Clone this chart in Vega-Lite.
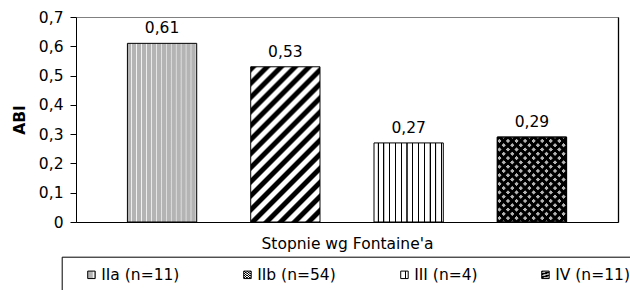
{
  "$schema": "https://vega.github.io/schema/vega-lite/v6.json",
  "width": 542,
  "height": 205,
  "autosize": {"type": "none"},
  "padding": {"left": 76, "top": 17, "right": 12, "bottom": 68},
  "background": "white",
  "config": {
    "locale": {"number": {"decimal": ",", "thousands": " ", "grouping": [3], "currency": ["", ""]}},
    "view": {"stroke": "#808080", "strokeWidth": 1},
    "axis": {"labelFont": "DejaVu Sans", "titleFont": "DejaVu Sans", "labelColor": "black", "titleColor": "black", "domainColor": "black", "tickColor": "black", "grid": false},
    "text": {"font": "DejaVu Sans"}
  },
  "data": {"values": [
    {"grade": "IIa (n=11)", "abi": 0.61},
    {"grade": "IIb (n=54)", "abi": 0.53},
    {"grade": "III (n=4)", "abi": 0.27},
    {"grade": "IV (n=11)", "abi": 0.29}
  ]},
  "encoding": {
    "x": {"field": "grade", "type": "nominal", "sort": null,
      "scale": {"paddingInner": 0.438, "paddingOuter": 0.417},
      "axis": {"labels": false, "ticks": false, "domainColor": "black", "title": "Stopnie wg Fontaine'a", "titleFontSize": 15.5, "titleFontWeight": "normal", "titlePadding": 14}},
    "y": {"field": "abi", "type": "quantitative", "scale": {"domain": [0, 0.7], "nice": false}}
  },
  "resolve": {"axis": {"y": "independent"}},
  "layer": [
    {
      "mark": {"type": "bar", "stroke": "black", "strokeWidth": 1},
      "encoding": {
        "y": {"field": "abi", "type": "quantitative", "scale": {"domain": [0, 0.7], "nice": false},
          "axis": {"orient": "left", "values": [0, 0.1, 0.2, 0.3, 0.4, 0.5, 0.6, 0.7], "format": ".1~f", "labelFontSize": 15.5, "tickSize": 6, "labelPadding": 7, "title": "ABI", "titleFontSize": 15.5, "titleFontWeight": "bold", "titlePadding": 11}},
        "fill": {"field": "grade", "type": "nominal", "sort": null,
          "scale": {
            "domain": ["IIa (n=11)", "IIb (n=54)", "III (n=4)", "IV (n=11)"],
            "range": [
              {"expr": "{gradient:'linear',x1:0,y1:0,x2:1,y2:0,stops:[{offset:0,color:'#b4b4b4'},{offset:0.05,color:'#b4b4b4'},{offset:0.06,color:'#f4f4f4'},{offset:0.0714,color:'#b4b4b4'},{offset:0.1214,color:'#b4b4b4'},{offset:0.1314,color:'#f4f4f4'},{offset:0.1429,color:'#b4b4b4'},{offset:0.1929,color:'#b4b4b4'},{offset:0.2029,color:'#f4f4f4'},{offset:0.2143,color:'#b4b4b4'},{offset:0.2643,color:'#b4b4b4'},{offset:0.2743,color:'#f4f4f4'},{offset:0.2857,color:'#b4b4b4'},{offset:0.3357,color:'#b4b4b4'},{offset:0.3457,color:'#f4f4f4'},{offset:0.3571,color:'#b4b4b4'},{offset:0.4071,color:'#b4b4b4'},{offset:0.4171,color:'#f4f4f4'},{offset:0.4286,color:'#b4b4b4'},{offset:0.4786,color:'#b4b4b4'},{offset:0.4886,color:'#f4f4f4'},{offset:0.5,color:'#b4b4b4'},{offset:0.55,color:'#b4b4b4'},{offset:0.56,color:'#f4f4f4'},{offset:0.5714,color:'#b4b4b4'},{offset:0.6214,color:'#b4b4b4'},{offset:0.6314,color:'#f4f4f4'},{offset:0.6429,color:'#b4b4b4'},{offset:0.6929,color:'#b4b4b4'},{offset:0.7029,color:'#f4f4f4'},{offset:0.7143,color:'#b4b4b4'},{offset:0.7643,color:'#b4b4b4'},{offset:0.7743,color:'#f4f4f4'},{offset:0.7857,color:'#b4b4b4'},{offset:0.8357,color:'#b4b4b4'},{offset:0.8457,color:'#f4f4f4'},{offset:0.8571,color:'#b4b4b4'},{offset:0.9071,color:'#b4b4b4'},{offset:0.9171,color:'#f4f4f4'},{offset:0.9286,color:'#b4b4b4'},{offset:0.9786,color:'#b4b4b4'},{offset:0.9886,color:'#f4f4f4'},{offset:1,color:'#b4b4b4'}]}"},
              {"expr": "{gradient:'linear',x1:0,y1:0,x2:0.541,y2:1.207,stops:[{offset:0,color:'#000'},{offset:0.0219,color:'#000'},{offset:0.0313,color:'#fff'},{offset:0.0531,color:'#fff'},{offset:0.0625,color:'#000'},{offset:0.0844,color:'#000'},{offset:0.0938,color:'#fff'},{offset:0.1156,color:'#fff'},{offset:0.125,color:'#000'},{offset:0.1469,color:'#000'},{offset:0.1563,color:'#fff'},{offset:0.1781,color:'#fff'},{offset:0.1875,color:'#000'},{offset:0.2094,color:'#000'},{offset:0.2188,color:'#fff'},{offset:0.2406,color:'#fff'},{offset:0.25,color:'#000'},{offset:0.2719,color:'#000'},{offset:0.2813,color:'#fff'},{offset:0.3031,color:'#fff'},{offset:0.3125,color:'#000'},{offset:0.3344,color:'#000'},{offset:0.3438,color:'#fff'},{offset:0.3656,color:'#fff'},{offset:0.375,color:'#000'},{offset:0.3969,color:'#000'},{offset:0.4063,color:'#fff'},{offset:0.4281,color:'#fff'},{offset:0.4375,color:'#000'},{offset:0.4594,color:'#000'},{offset:0.4688,color:'#fff'},{offset:0.4906,color:'#fff'},{offset:0.5,color:'#000'},{offset:0.5219,color:'#000'},{offset:0.5313,color:'#fff'},{offset:0.5531,color:'#fff'},{offset:0.5625,color:'#000'},{offset:0.5844,color:'#000'},{offset:0.5938,color:'#fff'},{offset:0.6156,color:'#fff'},{offset:0.625,color:'#000'},{offset:0.6469,color:'#000'},{offset:0.6563,color:'#fff'},{offset:0.6781,color:'#fff'},{offset:0.6875,color:'#000'},{offset:0.7094,color:'#000'},{offset:0.7188,color:'#fff'},{offset:0.7406,color:'#fff'},{offset:0.75,color:'#000'},{offset:0.7719,color:'#000'},{offset:0.7813,color:'#fff'},{offset:0.8031,color:'#fff'},{offset:0.8125,color:'#000'},{offset:0.8344,color:'#000'},{offset:0.8438,color:'#fff'},{offset:0.8656,color:'#fff'},{offset:0.875,color:'#000'},{offset:0.8969,color:'#000'},{offset:0.9063,color:'#fff'},{offset:0.9281,color:'#fff'},{offset:0.9375,color:'#000'},{offset:0.9594,color:'#000'},{offset:0.9688,color:'#fff'},{offset:0.9906,color:'#fff'},{offset:1,color:'#000'}]}"},
              {"expr": "{gradient:'linear',x1:0,y1:0,x2:1,y2:0,stops:[{offset:0,color:'#fff'},{offset:0.05,color:'#fff'},{offset:0.053,color:'#000'},{offset:0.066,color:'#000'},{offset:0.069,color:'#fff'},{offset:0.1333,color:'#fff'},{offset:0.1363,color:'#000'},{offset:0.1493,color:'#000'},{offset:0.1523,color:'#fff'},{offset:0.2167,color:'#fff'},{offset:0.2197,color:'#000'},{offset:0.2327,color:'#000'},{offset:0.2357,color:'#fff'},{offset:0.3,color:'#fff'},{offset:0.303,color:'#000'},{offset:0.316,color:'#000'},{offset:0.319,color:'#fff'},{offset:0.3833,color:'#fff'},{offset:0.3863,color:'#000'},{offset:0.3993,color:'#000'},{offset:0.4023,color:'#fff'},{offset:0.4667,color:'#fff'},{offset:0.4697,color:'#000'},{offset:0.4827,color:'#000'},{offset:0.4857,color:'#fff'},{offset:0.55,color:'#fff'},{offset:0.553,color:'#000'},{offset:0.566,color:'#000'},{offset:0.569,color:'#fff'},{offset:0.6333,color:'#fff'},{offset:0.6363,color:'#000'},{offset:0.6493,color:'#000'},{offset:0.6523,color:'#fff'},{offset:0.7167,color:'#fff'},{offset:0.7197,color:'#000'},{offset:0.7327,color:'#000'},{offset:0.7357,color:'#fff'},{offset:0.8,color:'#fff'},{offset:0.803,color:'#000'},{offset:0.816,color:'#000'},{offset:0.819,color:'#fff'},{offset:0.8833,color:'#fff'},{offset:0.8863,color:'#000'},{offset:0.8993,color:'#000'},{offset:0.9023,color:'#fff'},{offset:0.9667,color:'#fff'},{offset:0.9697,color:'#000'},{offset:0.9827,color:'#000'},{offset:0.9857,color:'#fff'},{offset:1,color:'#fff'}]}"},
              {"expr": "{gradient:'linear',x1:0,y1:0,x2:0.891,y2:1.089,stops:[{offset:0,color:'#000'},{offset:0.0222,color:'#000'},{offset:0.0278,color:'#b4b4b4'},{offset:0.05,color:'#b4b4b4'},{offset:0.0556,color:'#000'},{offset:0.0778,color:'#000'},{offset:0.0834,color:'#b4b4b4'},{offset:0.1056,color:'#b4b4b4'},{offset:0.1111,color:'#000'},{offset:0.1333,color:'#000'},{offset:0.1389,color:'#b4b4b4'},{offset:0.1611,color:'#b4b4b4'},{offset:0.1667,color:'#000'},{offset:0.1889,color:'#000'},{offset:0.1945,color:'#b4b4b4'},{offset:0.2167,color:'#b4b4b4'},{offset:0.2222,color:'#000'},{offset:0.2444,color:'#000'},{offset:0.25,color:'#b4b4b4'},{offset:0.2722,color:'#b4b4b4'},{offset:0.2778,color:'#000'},{offset:0.3,color:'#000'},{offset:0.3056,color:'#b4b4b4'},{offset:0.3278,color:'#b4b4b4'},{offset:0.3333,color:'#000'},{offset:0.3555,color:'#000'},{offset:0.3611,color:'#b4b4b4'},{offset:0.3833,color:'#b4b4b4'},{offset:0.3889,color:'#000'},{offset:0.4111,color:'#000'},{offset:0.4167,color:'#b4b4b4'},{offset:0.4389,color:'#b4b4b4'},{offset:0.4444,color:'#000'},{offset:0.4666,color:'#000'},{offset:0.4722,color:'#b4b4b4'},{offset:0.4944,color:'#b4b4b4'},{offset:0.5,color:'#000'},{offset:0.5222,color:'#000'},{offset:0.5278,color:'#b4b4b4'},{offset:0.55,color:'#b4b4b4'},{offset:0.5556,color:'#000'},{offset:0.5778,color:'#000'},{offset:0.5834,color:'#b4b4b4'},{offset:0.6056,color:'#b4b4b4'},{offset:0.6111,color:'#000'},{offset:0.6333,color:'#000'},{offset:0.6389,color:'#b4b4b4'},{offset:0.6611,color:'#b4b4b4'},{offset:0.6667,color:'#000'},{offset:0.6889,color:'#000'},{offset:0.6945,color:'#b4b4b4'},{offset:0.7167,color:'#b4b4b4'},{offset:0.7222,color:'#000'},{offset:0.7444,color:'#000'},{offset:0.75,color:'#b4b4b4'},{offset:0.7722,color:'#b4b4b4'},{offset:0.7778,color:'#000'},{offset:0.8,color:'#000'},{offset:0.8056,color:'#b4b4b4'},{offset:0.8278,color:'#b4b4b4'},{offset:0.8333,color:'#000'},{offset:0.8555,color:'#000'},{offset:0.8611,color:'#b4b4b4'},{offset:0.8833,color:'#b4b4b4'},{offset:0.8889,color:'#000'},{offset:0.9111,color:'#000'},{offset:0.9167,color:'#b4b4b4'},{offset:0.9389,color:'#b4b4b4'},{offset:0.9444,color:'#000'},{offset:0.9666,color:'#000'},{offset:0.9722,color:'#b4b4b4'},{offset:0.9944,color:'#b4b4b4'},{offset:1,color:'#000'}]}"}
            ]
          },
          "legend": {
            "orient": "none", "legendX": -14.3, "legendY": 239.7, "direction": "horizontal", "columns": 4, "columnPadding": 60,
            "title": "\u00a0", "titleOrient": "left", "titlePadding": 12, "titleFontSize": 15.5, "titleFont": "DejaVu Sans",
            "padding": 10, "strokeColor": "black",
            "symbolType": "square", "symbolSize": 56, "symbolStrokeColor": "black", "symbolStrokeWidth": 1,
            "labelFont": "DejaVu Sans", "labelFontSize": 15.5, "labelColor": "black", "labelOffset": 2, "labelLimit": 300,
            "encode": {"legend": {"update": {"width": {"value": 566}}}}
          }
        }
      }
    },
    {
      "transform": [{"filter": "datum.grade === 'IV (n=11)'"}],
      "mark": {"type": "bar", "stroke": "black", "strokeWidth": 1, "fill": {"gradient": "linear", "x1": 0, "y1": 1, "x2": 0.891, "y2": -0.089, "stops": [
        {"offset": 0, "color": "#000000"}, {"offset": 0.0222, "color": "#000000"}, {"offset": 0.0278, "color": "rgba(0,0,0,0)"}, {"offset": 0.05, "color": "rgba(0,0,0,0)"},
        {"offset": 0.0556, "color": "#000000"}, {"offset": 0.0778, "color": "#000000"}, {"offset": 0.0834, "color": "rgba(0,0,0,0)"}, {"offset": 0.1056, "color": "rgba(0,0,0,0)"},
        {"offset": 0.1111, "color": "#000000"}, {"offset": 0.1333, "color": "#000000"}, {"offset": 0.1389, "color": "rgba(0,0,0,0)"}, {"offset": 0.1611, "color": "rgba(0,0,0,0)"},
        {"offset": 0.1667, "color": "#000000"}, {"offset": 0.1889, "color": "#000000"}, {"offset": 0.1945, "color": "rgba(0,0,0,0)"}, {"offset": 0.2167, "color": "rgba(0,0,0,0)"},
        {"offset": 0.2222, "color": "#000000"}, {"offset": 0.2444, "color": "#000000"}, {"offset": 0.25, "color": "rgba(0,0,0,0)"}, {"offset": 0.2722, "color": "rgba(0,0,0,0)"},
        {"offset": 0.2778, "color": "#000000"}, {"offset": 0.3, "color": "#000000"}, {"offset": 0.3056, "color": "rgba(0,0,0,0)"}, {"offset": 0.3278, "color": "rgba(0,0,0,0)"},
        {"offset": 0.3333, "color": "#000000"}, {"offset": 0.3555, "color": "#000000"}, {"offset": 0.3611, "color": "rgba(0,0,0,0)"}, {"offset": 0.3833, "color": "rgba(0,0,0,0)"},
        {"offset": 0.3889, "color": "#000000"}, {"offset": 0.4111, "color": "#000000"}, {"offset": 0.4167, "color": "rgba(0,0,0,0)"}, {"offset": 0.4389, "color": "rgba(0,0,0,0)"},
        {"offset": 0.4444, "color": "#000000"}, {"offset": 0.4666, "color": "#000000"}, {"offset": 0.4722, "color": "rgba(0,0,0,0)"}, {"offset": 0.4944, "color": "rgba(0,0,0,0)"},
        {"offset": 0.5, "color": "#000000"}, {"offset": 0.5222, "color": "#000000"}, {"offset": 0.5278, "color": "rgba(0,0,0,0)"}, {"offset": 0.55, "color": "rgba(0,0,0,0)"},
        {"offset": 0.5556, "color": "#000000"}, {"offset": 0.5778, "color": "#000000"}, {"offset": 0.5834, "color": "rgba(0,0,0,0)"}, {"offset": 0.6056, "color": "rgba(0,0,0,0)"},
        {"offset": 0.6111, "color": "#000000"}, {"offset": 0.6333, "color": "#000000"}, {"offset": 0.6389, "color": "rgba(0,0,0,0)"}, {"offset": 0.6611, "color": "rgba(0,0,0,0)"},
        {"offset": 0.6667, "color": "#000000"}, {"offset": 0.6889, "color": "#000000"}, {"offset": 0.6945, "color": "rgba(0,0,0,0)"}, {"offset": 0.7167, "color": "rgba(0,0,0,0)"},
        {"offset": 0.7222, "color": "#000000"}, {"offset": 0.7444, "color": "#000000"}, {"offset": 0.75, "color": "rgba(0,0,0,0)"}, {"offset": 0.7722, "color": "rgba(0,0,0,0)"},
        {"offset": 0.7778, "color": "#000000"}, {"offset": 0.8, "color": "#000000"}, {"offset": 0.8056, "color": "rgba(0,0,0,0)"}, {"offset": 0.8278, "color": "rgba(0,0,0,0)"},
        {"offset": 0.8333, "color": "#000000"}, {"offset": 0.8555, "color": "#000000"}, {"offset": 0.8611, "color": "rgba(0,0,0,0)"}, {"offset": 0.8833, "color": "rgba(0,0,0,0)"},
        {"offset": 0.8889, "color": "#000000"}, {"offset": 0.9111, "color": "#000000"}, {"offset": 0.9167, "color": "rgba(0,0,0,0)"}, {"offset": 0.9389, "color": "rgba(0,0,0,0)"},
        {"offset": 0.9444, "color": "#000000"}, {"offset": 0.9666, "color": "#000000"}, {"offset": 0.9722, "color": "rgba(0,0,0,0)"}, {"offset": 0.9944, "color": "rgba(0,0,0,0)"},
        {"offset": 1, "color": "#000000"}
      ]}},
      "encoding": {
        "y": {"field": "abi", "type": "quantitative", "scale": {"domain": [0, 0.7], "nice": false},
          "axis": {"orient": "right", "labels": false, "ticks": false, "title": null, "domainColor": "black", "domainWidth": 1.3}}
      }
    },
    {
      "mark": {"type": "text", "baseline": "alphabetic", "dy": -10, "fontSize": 15.5, "color": "black", "font": "DejaVu Sans"},
      "encoding": {
        "y": {"field": "abi", "type": "quantitative", "scale": {"domain": [0, 0.7], "nice": false}, "axis": null},
        "text": {"field": "abi", "type": "quantitative", "format": ".2f"}
      }
    }
  ]
}
